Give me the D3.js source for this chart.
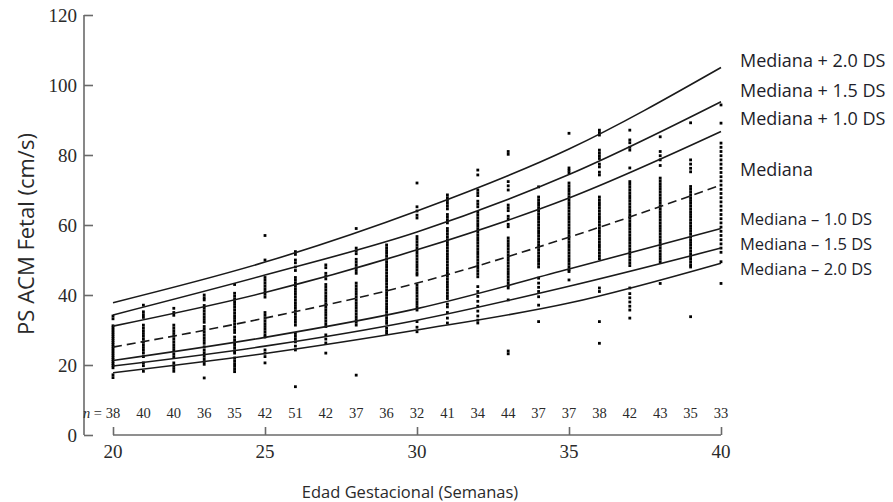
<!DOCTYPE html>
<html>
<head>
<meta charset="utf-8">
<script src="https://cdn.jsdelivr.net/npm/d3@7"></script>
<style>
  html, body { margin: 0; padding: 0; background: #fff; }
  svg { display: block; }
</style>
</head>
<body>
<svg id="chart" width="893" height="502"></svg>
<script>
// ---------- DATA ----------
const curveWeeks = [20, 25, 30, 35, 40];
const plus20 = [37.8, 49.4, 64.0, 81.7, 105.0];
const plus15 = [34.3, 45.7, 58.0, 74.4, 95.2];
const plus10 = [31.1, 40.7, 52.9, 67.7, 86.7];
const median = [25.1, 33.4, 43.4, 56.5, 71.4];
const minus10 = [21.3, 27.9, 36.1, 47.4, 59.0];
const minus15 = [19.7, 25.4, 32.8, 42.5, 53.4];
const minus20 = [17.8, 23.3, 30.0, 37.7, 49.1];

const weeks = [20,21,22,23,24,25,26,27,28,29,30,31,32,33,34,35,36,37,38,39,40];
const nCounts = [38,40,40,36,35,42,51,42,37,36,32,41,34,44,37,37,38,42,43,35,33];

const obs20 = [34,33.2,31.2,30.6,30,29.4,28.8,28.2,27.6,27,26.4,25.8,25.2,24.6,24,23.4,22.8,22.2,21.6,21,20.4,19.8,19.2,17.2,16.4];
const obs21 = [37.1,35.2,34.4,33.6,31.4,30.6,29.8,29,28.2,27.4,26.6,25.8,25,24.2,23.4,22.4,20.6,19.8,18.2];
const obs22 = [36.2,35,34.2,31.4,30.6,29.8,29,28.2,27.4,26.6,25.8,25,24.2,23.2,22.4,20.6,19.8,19,18.2];
const obs23 = [40,39.2,38.6,37,36.2,35.4,34.6,33.8,33,32.2,31,30.2,29.4,28.6,27.8,27,26.2,25.2,24.3,23.5,22.6,21.8,21,20.2,16.3];
const obs24 = [43,40.5,39.7,38.9,38.1,37.3,36.5,35.7,34.9,34.1,33.3,32.5,31.7,30.9,30.1,29.3,28,27.2,26.4,25.6,24.8,24,23.4,22,21.2,20.4,19.6,18.8,18.1];
const obs25 = [57,50,45,44.2,43.4,42.6,41.8,41,40.2,39.4,35,34.2,33.4,32.6,31.8,31,30.2,29.4,28.6,28,24.3,23.4,22.4,20.6];
const obs26 = [52.4,51.6,50,49.2,48,47,45,44.2,43.4,42.6,41.8,41,40.2,39.4,38.6,37.8,37,36.2,35.4,34.6,33.8,33,32.2,31.4,29,28.2,27.4,26.6,25.4,24.3,13.8];
const obs27 = [48.6,47.8,46.2,45.4,44.6,43,42.2,41.4,40.6,39.8,39,38.2,37.4,36.6,35.8,35,34.2,33.4,32.6,31.8,31,28.6,27.4,26.3,23.4];
const obs28 = [59,53.4,52.6,51.8,50.2,49.4,48.6,47.8,47,46.2,43.4,42.6,41.8,41,40.2,39.4,38.6,37.8,37,36.2,35.4,34.6,33.8,33,32.2,31.4,17.1];
const obs29 = [54.3,53.5,52.7,51.9,51.1,50.3,49.5,48.7,47.9,47.1,46.3,45.5,44.7,43.9,43.1,42.3,41.5,40.7,39.9,39.1,38.3,37.5,36.7,35.9,35.1,34.3,33.5,32.7,31.9,30.5,29.7,29];
const obs30 = [72,65.2,64,62.8,62,56.7,55.9,55.1,54.3,53.5,52.7,51.9,51.1,50.3,49.5,48.7,47.9,47.1,46.3,45.7,42.9,42.1,41.3,40.5,39.7,38.9,38.1,37.3,36.5,35.7,32.4,30.8,29.5];
const obs31 = [68.6,67.8,67,66.2,65.4,64.6,63,62.2,61.4,60.6,59,58.2,57.4,56.6,55.8,55,54.2,53.4,52.6,51.8,51,50.2,49.4,48.6,47.8,47,46.2,45.4,44.6,43.8,43,42.2,41.4,40.6,39.8,39,37.4,36.6,35,33.4,32];
const obs32 = [75.7,74.3,70,69.2,68.4,66.8,66,65.2,63.6,62.8,62,61.2,60.4,59.6,58.8,58,57.2,56.4,55.6,54.8,54,53.2,52.4,51.6,50.8,50,49.2,48.4,47.6,46.8,46,45.2,42.4,41,39.6,38.2,36.8,35.4,34,32.8,32];
const obs33 = [81,80.2,72.4,71.2,70,65.7,64.9,64.1,62.5,61.7,60.2,59.5,56.3,55.5,54.7,53.9,53.1,52.3,51.5,50.7,49.9,49.1,48.3,47.5,46.7,45.9,45.1,44.3,43.5,42.7,42,38.6,24,23.2];
const obs34 = [70.9,68,67.2,66.4,65.6,64.8,64,63.2,62.4,61.6,60.8,60,59.2,58.4,57.6,56.8,56,55.2,54.4,53.6,52.8,52,51.2,50.4,49.6,48.8,48,44.8,43.4,42.2,41,39.5,37.1,32.4];
const obs35 = [86.2,76.3,75.6,74.9,72,71.2,70.4,69.6,68.8,68,67.2,66.4,65.6,64.8,64,63.2,62.4,61.6,60.8,60,59.2,58.4,57.6,56.8,56,55.2,54.4,53.6,52.8,52,51.2,50.4,49.6,48.8,48,47.2,46.7,44.3];
const obs36 = [87.1,86.4,85.7,81.4,80.6,79.8,79,77.4,76.6,75.1,74.3,68,67.2,66.4,65.6,64.8,64,63.2,62.4,61.6,60.8,60,59.2,58.4,57.6,56.8,56,55.2,54.4,53.6,52.8,52,51.2,50.4,42,41,32.4,26.2];
const obs37 = [87.1,84.3,83.5,82.2,81.4,76.3,72.4,71.6,70.8,70,69.2,68.4,67.6,66.8,66,65.2,64.4,63.6,62.8,62,61.2,60.4,59.6,58.8,58,57.2,56.4,55.6,54.8,54,53.2,52.4,51.6,50.8,50,49.2,48.4,42,40.4,39.2,38,36.8,35.7,33.4];
const obs38 = [85.2,81,79.8,78.6,77,73.4,72.6,71.8,71,70.2,69.4,68.6,67.8,67,66.2,65.4,64.6,63.8,63,62.2,61.4,60.6,59.8,59,58.2,57.4,56.6,55.8,55,54.2,53.4,52.6,51.8,51,50.2,49.4,43.3];
const obs39 = [89.2,78.6,77.4,76.2,75.2,71,70.2,69.4,68.6,67.8,67,66.2,65.4,64.6,63.8,63,62.2,61.4,60.6,59.8,59,58.2,57.4,56.6,55.8,55,54.2,53.4,52.6,51.8,51,50.2,49.4,48.6,48,33.8];
const obs40 = [94.3,89.1,83.4,82.2,81,79.8,78.6,77.4,76.2,75,73.8,72.6,71.4,70.2,69,67.8,66.6,65.4,64.2,63,61.8,60.6,59.4,58.2,57,55.8,54.6,53.4,52.2,49.5,43.3];

const yTicks = [0, 20, 40, 60, 80, 100, 120];
const xTicks = [20, 25, 30, 35, 40];
const curveLabels = ["Mediana + 2.0 DS","Mediana + 1.5 DS","Mediana + 1.0 DS","Mediana","Mediana \u2013 1.0 DS","Mediana \u2013 1.5 DS","Mediana \u2013 2.0 DS"];
const yTitle = "PS ACM Fetal (cm/s)";
const xTitle = "Edad Gestacional (Semanas)";

// ---------- BUILD ----------
const observations = [obs20,obs21,obs22,obs23,obs24,obs25,obs26,obs27,obs28,obs29,obs30,obs31,obs32,obs33,obs34,obs35,obs36,obs37,obs38,obs39,obs40];
const curves = [
  {vals: plus20, dashed: false},
  {vals: plus15, dashed: false},
  {vals: plus10, dashed: false},
  {vals: median, dashed: true},
  {vals: minus10, dashed: false},
  {vals: minus15, dashed: false},
  {vals: minus20, dashed: false}
];

const svg = d3.select("#chart");
const x = d3.scaleLinear().domain([20, 40]).range([113, 721]);
const y = d3.scaleLinear().domain([0, 120]).range([435, 15]);

const serif = "'Liberation Serif', 'DejaVu Serif', serif";
const sans = "'Open Sans', 'Noto Sans', sans-serif";
const axisColor = "#6a6a6a";
const textColor = "#2a2a2a";

// Y axis (ticks pointing inward)
const yAxis = svg.append("g").attr("transform", `translate(${84},0)`)
  .call(d3.axisRight(y).tickValues(yTicks).tickSize(9).tickFormat(""));
yAxis.select(".domain").attr("d", `M0,${y(120)}V${y(0)}`).attr("stroke", axisColor).attr("stroke-width", 1.6);
yAxis.selectAll(".tick line").attr("stroke", axisColor).attr("stroke-width", 1.6);
svg.append("g").selectAll("text").data(yTicks).join("text")
  .attr("x", 77).attr("y", d => y(d)).attr("dy", "0.35em")
  .attr("text-anchor", "end")
  .attr("font-family", serif).attr("font-size", 19).attr("fill", textColor)
  .text(d => d);

// X axis (range frame from 20 to 40, ticks pointing up)
const xAxis = svg.append("g").attr("transform", `translate(0,${y(0)})`)
  .call(d3.axisTop(x).tickValues(xTicks).tickSize(8).tickFormat(""));
xAxis.select(".domain").attr("d", `M${x(20)},0H${x(40)}`).attr("stroke", axisColor).attr("stroke-width", 1.6);
xAxis.selectAll(".tick line").attr("stroke", axisColor).attr("stroke-width", 1.6);
svg.append("g").selectAll("text").data(xTicks).join("text")
  .attr("x", d => x(d)).attr("y", 458)
  .attr("text-anchor", "middle")
  .attr("font-family", serif).attr("font-size", 19).attr("fill", textColor)
  .text(d => d);

// Axis titles
svg.append("text")
  .attr("transform", `translate(34,${234}) rotate(-90)`)
  .attr("text-anchor", "middle")
  .attr("font-family", sans).attr("font-size", 22).attr("fill", textColor)
  .text(yTitle);
svg.append("text")
  .attr("x", 410).attr("y", 498)
  .attr("text-anchor", "middle")
  .attr("font-family", sans).attr("font-size", 16.5).attr("fill", textColor)
  .text(xTitle);

// n labels
svg.append("text")
  .attr("x", 102).attr("y", 418).attr("text-anchor", "end")
  .attr("font-family", serif).attr("font-size", 14.5).attr("fill", textColor)
  .html("<tspan font-style='italic'>n</tspan> =");
svg.append("g").selectAll("text").data(weeks).join("text")
  .attr("x", d => x(d)).attr("y", 418).attr("text-anchor", "middle")
  .attr("font-family", serif).attr("font-size", 14.5).attr("fill", textColor)
  .text((d, i) => nCounts[i]);

// Dots
const dotData = [];
weeks.forEach((w, i) => observations[i].forEach(v => dotData.push({w, v})));
svg.append("g").selectAll("rect").data(dotData).join("rect")
  .attr("x", d => x(d.w) - 1.4).attr("y", d => y(d.v) - 1.4)
  .attr("width", 2.8).attr("height", 2.8)
  .attr("fill", "#000");

// Curves
const line = d3.line()
  .x((d, i) => x(curveWeeks[i]))
  .y(d => y(d))
  .curve(d3.curveMonotoneX);
svg.append("g").selectAll("path").data(curves).join("path")
  .attr("d", d => line(d.vals))
  .attr("fill", "none")
  .attr("stroke", "#1a1a1a")
  .attr("stroke-width", 1.6)
  .attr("stroke-dasharray", d => d.dashed ? "9,5" : null);

// Curve labels on the right
const labelY = [61, 91, 119, 170, 219, 244, 269];
const labelSize = [18, 18, 18, 18, 16.5, 16.5, 16.5];
svg.append("defs").append("clipPath").attr("id", "lblclip")
  .append("rect").attr("x", 730).attr("y", 0).attr("width", 163).attr("height", 277);
svg.append("g").attr("clip-path", "url(#lblclip)")
  .selectAll("text").data(curveLabels).join("text")
  .attr("x", 740).attr("y", (d, i) => labelY[i]).attr("dy", "0.35em")
  .attr("font-family", sans).attr("font-size", (d, i) => labelSize[i])
  .attr("fill", "#1e1e2a")
  .text(d => d);
</script>
</body>
</html>
